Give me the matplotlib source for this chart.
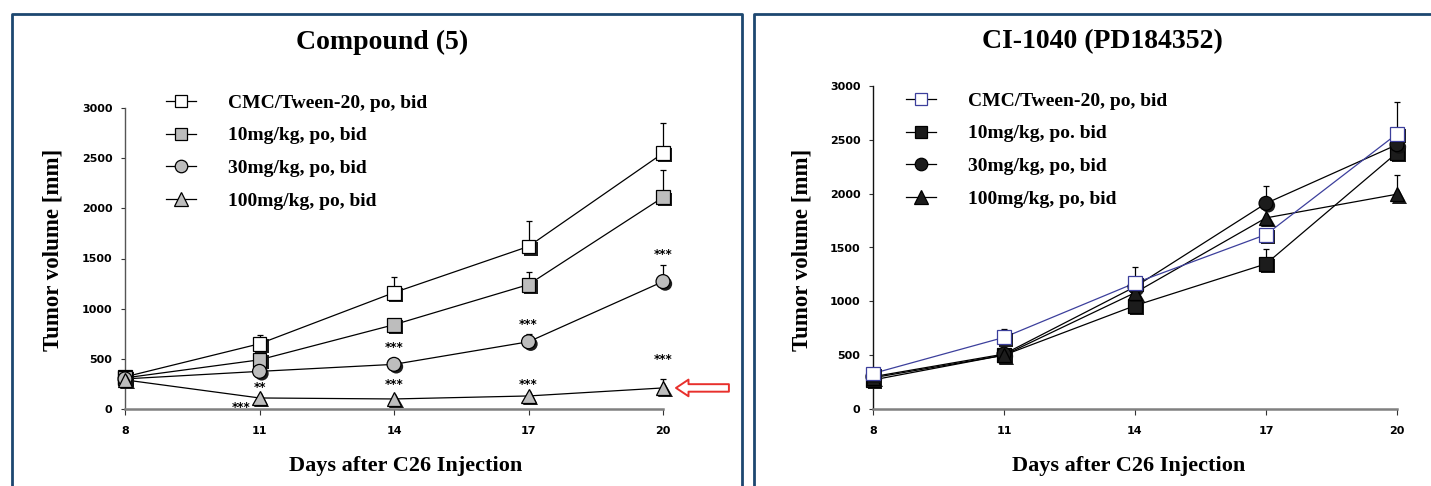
# tumor volume curves, two panels
import matplotlib
matplotlib.use('Agg')
from matplotlib import pyplot as plt
from matplotlib import patheffects
from matplotlib.lines import Line2D

# data
days = [8, 11, 14, 17, 20]
labels = ['CMC/Tween-20, po, bid', '10mg/kg, po, bid', '30mg/kg, po, bid', '100mg/kg, po, bid']
labels_right = ['CMC/Tween-20, po, bid', '10mg/kg, po. bid', '30mg/kg, po, bid', '100mg/kg, po, bid']

# Compound (5)
cmp_vehicle = [320, 650, 1160, 1620, 2550]
cmp_10 = [310, 490, 840, 1240, 2110]
cmp_30 = [300, 375, 445, 670, 1270]
cmp_100 = [290, 110, 100, 130, 210]
cmp_vehicle_err = [0, 90, 160, 250, 300]
cmp_10_err = [0, 0, 50, 130, 270]
cmp_30_err = [0, 0, 0, 80, 170]
cmp_100_err = [0, 0, 0, 0, 90]

# significance marks (x, y, text)
stars_x = [10.6, 11, 14, 14, 17, 17, 20, 20]
stars_y = [15, 210, 240, 610, 240, 840, 490, 1535]
stars_txt = ['***', '**', '***', '***', '***', '***', '***', '***']

# CI-1040
ci_vehicle = [330, 665, 1170, 1620, 2555]
ci_10 = [270, 500, 960, 1348, 2380]
ci_30 = [300, 510, 1135, 1910, 2455]
ci_100 = [290, 500, 1080, 1775, 1995]
ci_vehicle_err = [0, 75, 150, 0, 295]
ci_10_err = [0, 0, 0, 140, 0]
ci_30_err = [0, 0, 0, 165, 0]
ci_100_err = [0, 0, 0, 0, 175]

W, H = 1431, 486
fig = plt.figure(figsize=(W / 100, H / 100), dpi=100)

serif = 'Liberation Serif'
navy = '#1d4770'
shadow = [patheffects.SimplePatchShadow(offset=(1.6, -1.6), shadow_rgbFace='#111111', alpha=0.95),
          patheffects.Normal()]


def fx(px):
    return px / W


def fy(py):
    return 1 - py / H


# panel borders
fig.add_artist(Line2D([fx(12), fx(12), fx(742), fx(742)], [0, fy(14), fy(14), 0],
                      transform=fig.transFigure, color=navy, lw=2))
fig.add_artist(Line2D([fx(754), fx(754), 1.01], [0, fy(14), fy(14)],
                      transform=fig.transFigure, color=navy, lw=2))


def setup_axes(ax, spine_color):
    ax.set_xlim(8, 20)
    ax.set_ylim(0, 3000)
    ax.set_xticks(days)
    ax.set_yticks(range(0, 3001, 500))
    for s in ['top', 'right']:
        ax.spines[s].set_visible(False)
    ax.spines['bottom'].set_color('#808080')
    ax.spines['bottom'].set_linewidth(1.8)
    ax.spines['left'].set_color(spine_color)
    ax.spines['left'].set_linewidth(1.0)
    ax.tick_params(axis='x', direction='out', length=4, width=0.8, pad=8, color='#333333')
    ax.tick_params(axis='y', direction='out', length=3, width=0.8, pad=6, color='#333333')
    for t in ax.get_xticklabels() + ax.get_yticklabels():
        t.set_fontfamily('DejaVu Sans')
        t.set_fontweight('bold')
        t.set_fontsize(8)


def draw_series(ax, y, err, face, edge, marker, line_color, ms):
    ax.plot(days, y, color=line_color, lw=0.9, zorder=2, clip_on=False)
    ax.errorbar(days, y, yerr=[[0] * len(err), err], fmt='none', ecolor='black',
                elinewidth=0.9, capsize=2.5, capthick=0.9, zorder=3, clip_on=False)
    ax.plot(days, y, linestyle='none', marker=marker, markersize=ms, markerfacecolor=face,
            markeredgecolor=edge, markeredgewidth=0.9, zorder=4, clip_on=False,
            path_effects=shadow)


# ---- left panel: Compound (5)
ax1 = fig.add_axes([fx(125), fy(409), fx(663) - fx(125), fy(108) - fy(409)])
setup_axes(ax1, '#555555')
gray = '#bdbdbd'
left_series = [
    (cmp_vehicle, cmp_vehicle_err, 'white', 's', 10),
    (cmp_10, cmp_10_err, gray, 's', 10),
    (cmp_30, cmp_30_err, gray, 'o', 10),
    (cmp_100, cmp_100_err, gray, '^', 10.5),
]
for y, err, face, marker, ms in left_series:
    draw_series(ax1, y, err, face, 'black', marker, 'black', ms)

for x, y, t in zip(stars_x, stars_y, stars_txt):
    ax1.text(x, y, t, ha='center', va='center', fontsize=8.5, fontweight='bold',
             family='DejaVu Sans', clip_on=False)

ax1.annotate('', xy=(20.29, cmp_100[-1]), xytext=(21.47, cmp_100[-1]), annotation_clip=False,
             arrowprops=dict(arrowstyle='simple,head_length=0.75,head_width=1.0,tail_width=0.45',
                             fc='white', ec='#e8302c', lw=1.4, mutation_scale=12,
                             shrinkA=0, shrinkB=0))

handles1 = [Line2D([], [], color='black', lw=0.9, marker=m, markersize=ms * 0.9,
                   markerfacecolor=f, markeredgecolor='black', markeredgewidth=0.9)
            for _, _, f, m, ms in left_series]
fig.legend(handles1, labels, loc='upper left', bbox_to_anchor=(fx(166), fy(94)),
           frameon=False, borderpad=0, borderaxespad=0, handlelength=1.55,
           handletextpad=1.65, labelspacing=0.78,
           prop={'family': serif, 'weight': 'bold', 'size': 14})

fig.text(fx(382), fy(42), 'Compound (5)', ha='center', va='center', family=serif,
         fontweight='bold', fontsize=20)
fig.text(fx(406), fy(466), 'Days after C26 Injection', ha='center', va='center', family=serif,
         fontweight='bold', fontsize=16)
fig.text(fx(53), fy(250), 'Tumor volume [mm]', ha='center', va='center', rotation=90,
         family=serif, fontweight='bold', fontsize=16.5)

# ---- right panel: CI-1040
ax2 = fig.add_axes([fx(873), fy(409), fx(1397) - fx(873), fy(86) - fy(409)])
setup_axes(ax2, '#111111')
blue = '#3c3f9c'
dark = '#1c1c1c'
right_series = [
    (ci_vehicle, ci_vehicle_err, 'white', blue, 's', blue, 10),
    (ci_10, ci_10_err, dark, 'black', 's', 'black', 10),
    (ci_30, ci_30_err, dark, 'black', 'o', 'black', 10),
    (ci_100, ci_100_err, dark, 'black', '^', 'black', 10.5),
]
# black series first so the blue vehicle line sits on top
for y, err, face, edge, marker, lc, ms in right_series[1:] + right_series[:1]:
    draw_series(ax2, y, err, face, edge, marker, lc, ms)

handles2 = [Line2D([], [], color=lc, lw=0.9, marker=m, markersize=ms * 0.9,
                   markerfacecolor=f, markeredgecolor=e, markeredgewidth=0.9)
            for _, _, f, e, m, lc, ms in right_series]
handles2[0].set_color('black')
fig.legend(handles2, labels_right, loc='upper left', bbox_to_anchor=(fx(906), fy(92)),
           frameon=False, borderpad=0, borderaxespad=0, handlelength=1.55,
           handletextpad=1.65, labelspacing=0.78,
           prop={'family': serif, 'weight': 'bold', 'size': 14})

fig.text(fx(1102), fy(42), 'CI-1040 (PD184352)', ha='center', va='center', family=serif,
         fontweight='bold', fontsize=20)
fig.text(fx(1129), fy(466), 'Days after C26 Injection', ha='center', va='center', family=serif,
         fontweight='bold', fontsize=16)
fig.text(fx(802), fy(250), 'Tumor volume [mm]', ha='center', va='center', rotation=90,
         family=serif, fontweight='bold', fontsize=16.5)

fig.savefig('out.png', dpi=100)
